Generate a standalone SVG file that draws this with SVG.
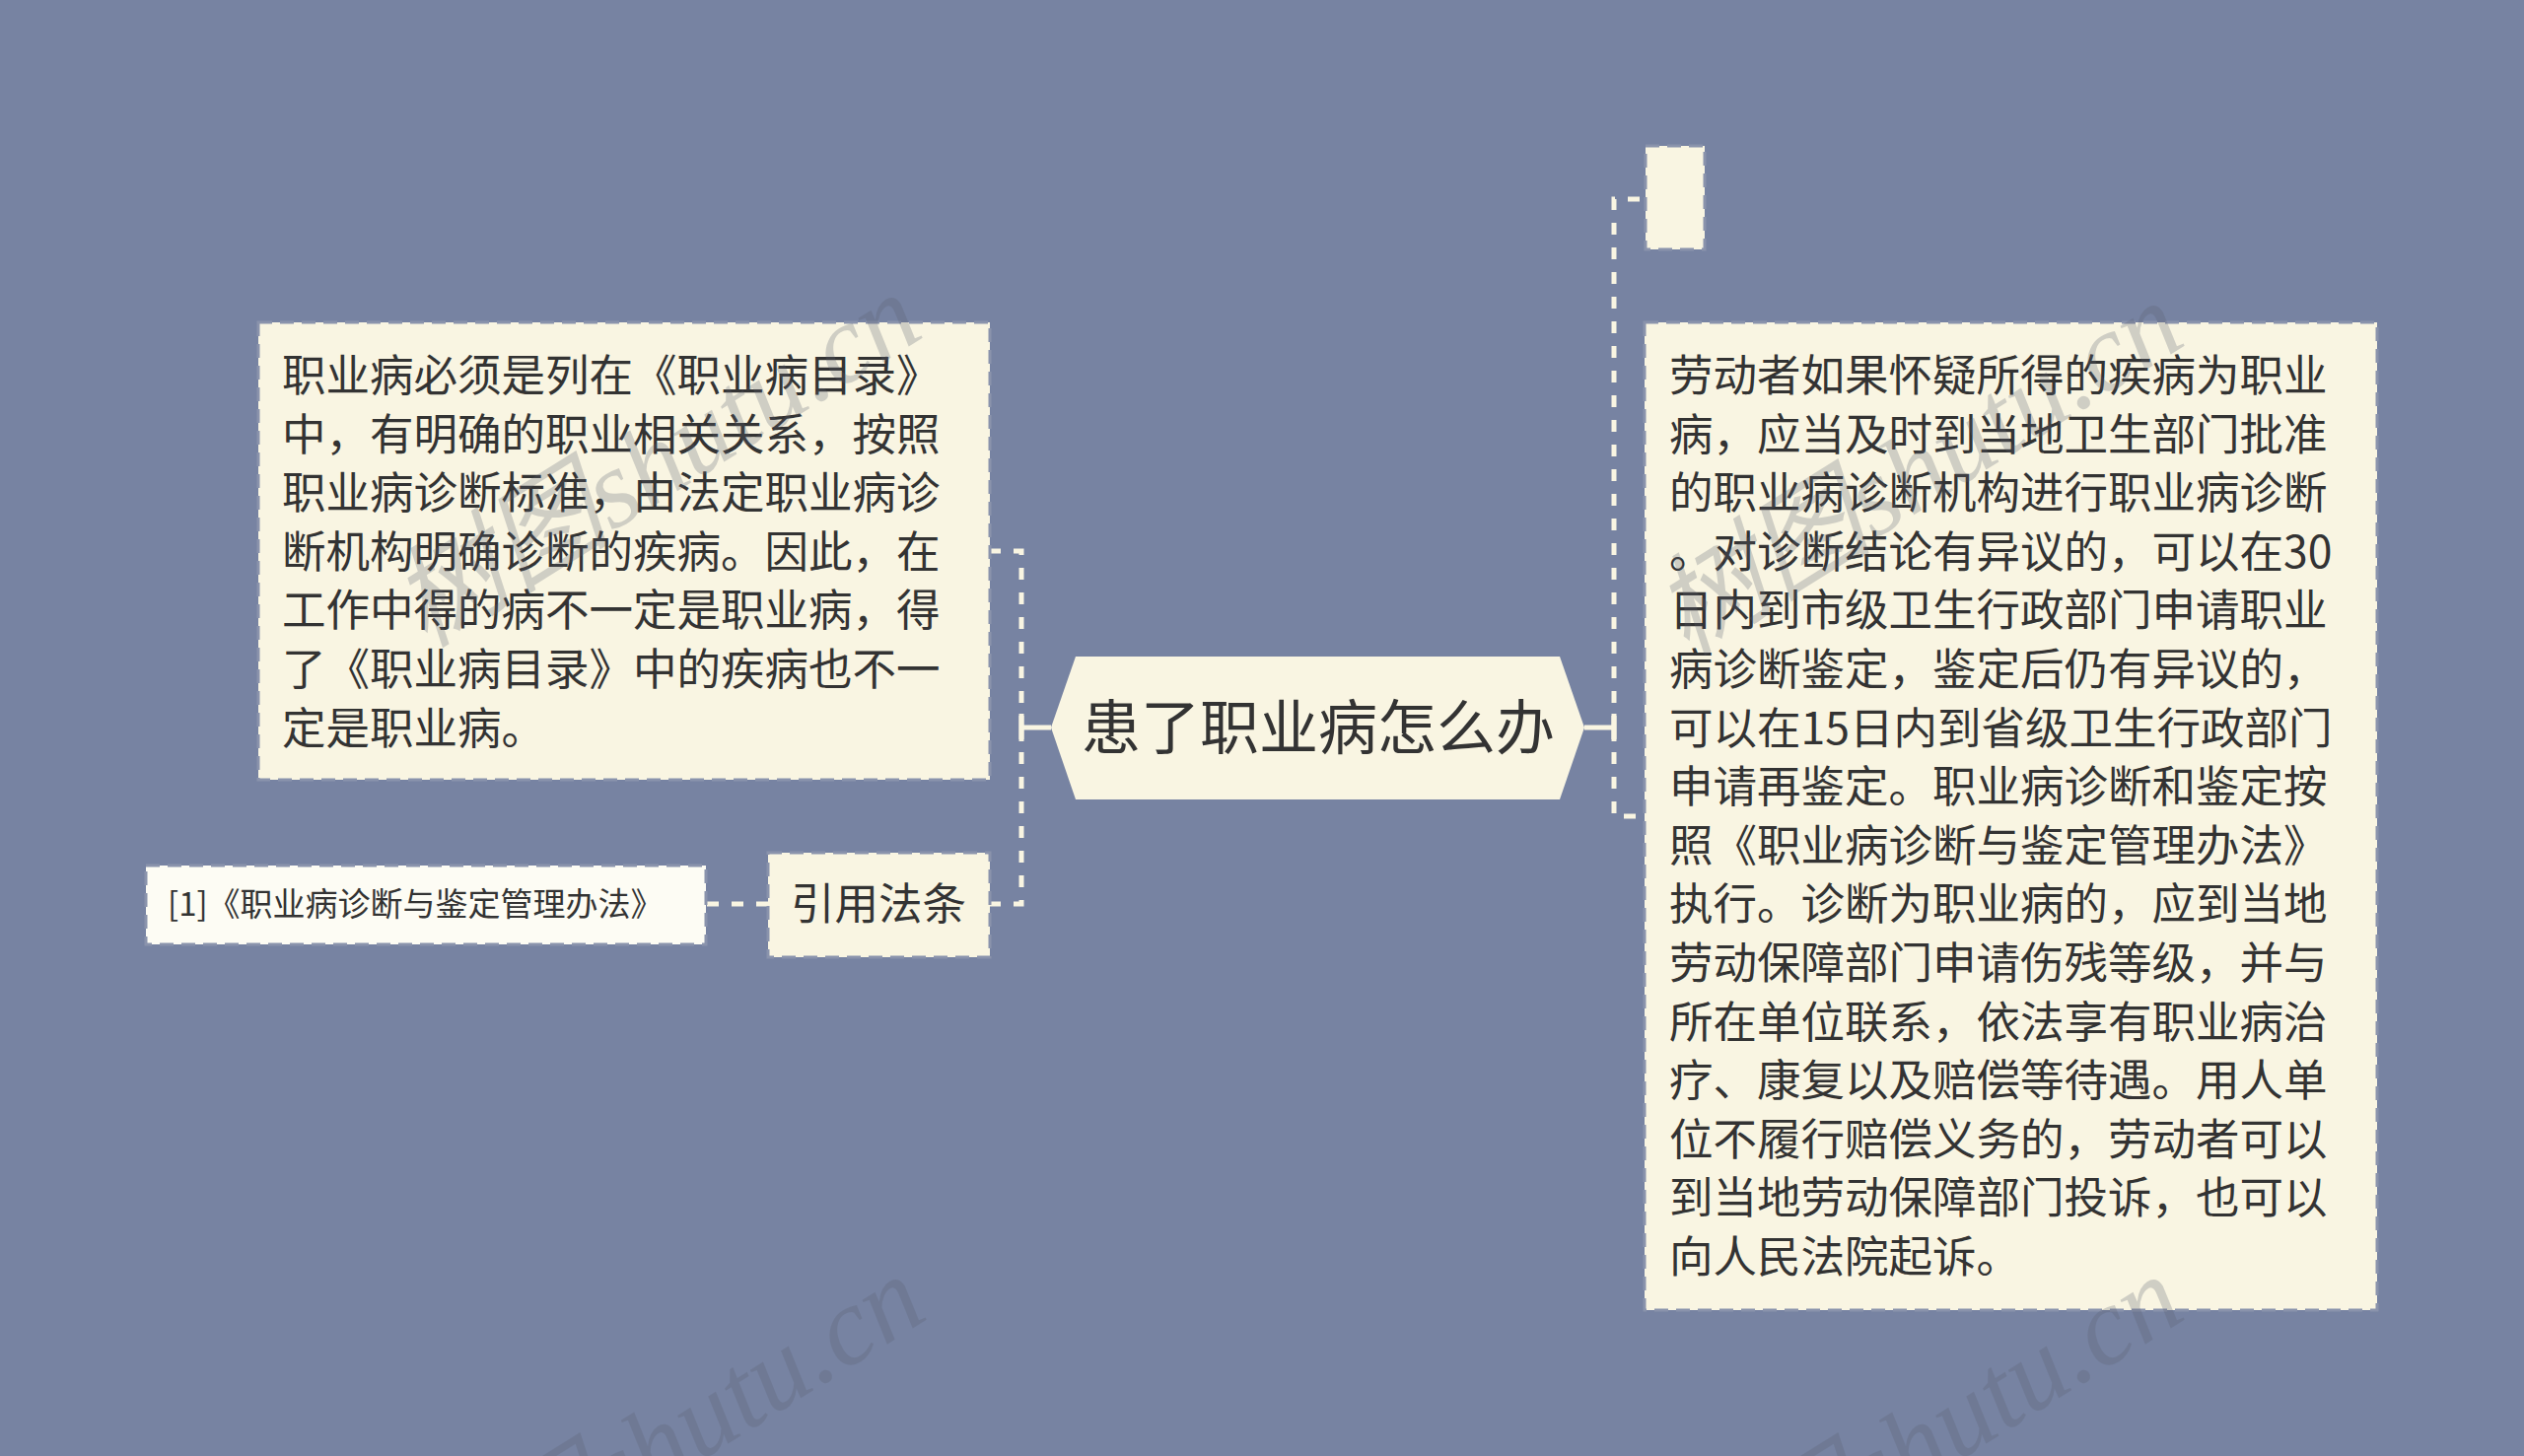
<svg xmlns="http://www.w3.org/2000/svg" width="2560" height="1477" viewBox="0 0 2560 1477">
<style>
.bg{fill:#7783a2}
.box{fill:#f9f5e2;stroke:#8a93ac;stroke-width:3;stroke-dasharray:14 8}
.cite{fill:#fdfcf4;stroke:#8a93ac;stroke-width:3;stroke-dasharray:14 8}
.t{font-family:"Noto Sans CJK SC","Noto Sans",sans-serif;fill:#333333}
.body{font-size:44.5px}
.dash{fill:none;stroke:#f9f5e2;stroke-width:5;stroke-dasharray:12 13}
.solid{fill:none;stroke:#f9f5e2;stroke-width:5}
.wm{font-family:"Liberation Serif","Noto Sans CJK SC",serif;font-style:italic;font-size:112px;fill:#5a6070;opacity:0.26}
</style>
<rect class="bg" x="0" y="0" width="2560" height="1477"/>

<g id="connectors">
  <path class="solid" d="M1066 738 H1036 M1036 724 V752"/>
  <path class="dash" d="M1036 738 V559 H1004"/>
  <path class="dash" d="M1036 738 V917 H1004"/>
  <path class="dash" d="M779 917 H716"/>
  <path class="solid" d="M1607 738 H1637 M1637 724 V752"/>
  <path class="dash" d="M1637 738 V202 H1669"/>
  <path class="dash" d="M1637 738 V828 H1668"/>
</g>

<g id="node-center">
  <polygon points="1066,738 1091,666 1582,666 1607,738 1582,811 1091,811" fill="#f9f5e2"/>
  <text class="t" x="1337" y="760" font-size="60" text-anchor="middle">患了职业病怎么办</text>
</g>

<g id="node-left">
  <rect class="box" x="262" y="327" width="742" height="464"/>
  <text class="t body">
    <tspan x="286" y="397">职业病必须是列在《职业病目录》</tspan>
    <tspan x="286" y="456.6">中，有明确的职业相关关系，按照</tspan>
    <tspan x="286" y="516.2">职业病诊断标准，由法定职业病诊</tspan>
    <tspan x="286" y="575.8">断机构明确诊断的疾病。因此，在</tspan>
    <tspan x="286" y="635.4">工作中得的病不一定是职业病，得</tspan>
    <tspan x="286" y="695">了《职业病目录》中的疾病也不一</tspan>
    <tspan x="286" y="754.6">定是职业病。</tspan>
  </text>
</g>

<g id="node-cite-title">
  <rect class="box" x="779" y="865" width="225" height="106"/>
  <text class="t" x="891" y="933" font-size="44.5" text-anchor="middle">引用法条</text>
</g>

<g id="node-cite">
  <rect class="cite" x="148" y="878" width="568" height="80"/>
  <text class="t" x="170" y="929" font-size="33">[1]《职业病诊断与鉴定管理办法》</text>
</g>

<g id="node-empty">
  <rect class="box" x="1669" y="148" width="60" height="105"/>
</g>

<g id="node-right">
  <rect class="box" x="1668" y="327" width="743" height="1002"/>
  <text class="t body">
    <tspan x="1693" y="397">劳动者如果怀疑所得的疾病为职业</tspan>
    <tspan x="1693" y="456.6">病，应当及时到当地卫生部门批准</tspan>
    <tspan x="1693" y="516.2">的职业病诊断机构进行职业病诊断</tspan>
    <tspan x="1693" y="575.8">。对诊断结论有异议的，可以在30</tspan>
    <tspan x="1693" y="635.4">日内到市级卫生行政部门申请职业</tspan>
    <tspan x="1693" y="695">病诊断鉴定，鉴定后仍有异议的，</tspan>
    <tspan x="1693" y="754.6">可以在15日内到省级卫生行政部门</tspan>
    <tspan x="1693" y="814.2">申请再鉴定。职业病诊断和鉴定按</tspan>
    <tspan x="1693" y="873.8">照《职业病诊断与鉴定管理办法》</tspan>
    <tspan x="1693" y="933.4">执行。诊断为职业病的，应到当地</tspan>
    <tspan x="1693" y="993">劳动保障部门申请伤残等级，并与</tspan>
    <tspan x="1693" y="1052.6">所在单位联系，依法享有职业病治</tspan>
    <tspan x="1693" y="1112.2">疗、康复以及赔偿等待遇。用人单</tspan>
    <tspan x="1693" y="1171.8">位不履行赔偿义务的，劳动者可以</tspan>
    <tspan x="1693" y="1231.4">到当地劳动保障部门投诉，也可以</tspan>
    <tspan x="1693" y="1291">向人民法院起诉。</tspan>
  </text>
</g>

<g id="watermarks">
  <text class="wm" text-anchor="end" transform="translate(940,340) rotate(-32)">树图shutu.cn</text>
  <text class="wm" text-anchor="end" transform="translate(2220,348) rotate(-32)">树图shutu.cn</text>
  <text class="wm" text-anchor="end" transform="translate(944,1336) rotate(-32)">树图shutu.cn</text>
  <text class="wm" text-anchor="end" transform="translate(2220,1336) rotate(-32)">树图shutu.cn</text>
</g>
</svg>
